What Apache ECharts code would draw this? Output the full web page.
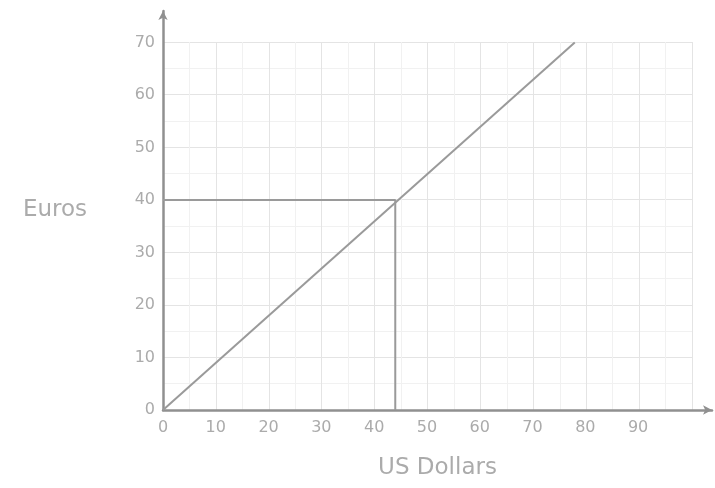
<!DOCTYPE html>
<html>
<head>
<meta charset="utf-8">
<script src="https://cdn.jsdelivr.net/npm/echarts@6/dist/echarts.min.js"></script>
<style>html,body{margin:0;padding:0;background:#fff}#c{width:715px;height:488px}</style>
</head>
<body>
<div id="c"></div>
<script>
// Data
var xTicks = [0, 10, 20, 30, 40, 50, 60, 70, 80, 90];
var yTicks = [0, 10, 20, 30, 40, 50, 60, 70];
var conversionLine = [[0, 0], [78, 70]];      // US Dollars -> Euros
var guideLine = [[0, 40], [44, 40], [44, 0]]; // 40 Euros reading
var xTitle = 'US Dollars';
var yTitle = 'Euros';

var chart = echarts.init(document.getElementById('c'));
var grey = '#ababab';
var font = 'DejaVu Sans';
var L = 163, B = 78;

chart.setOption({
  animation: false,
  backgroundColor: '#fff',
  grid: [
    {left: L, right: 715 - 692, top: 42, bottom: B},  // graph paper
    {left: L, right: 2, top: 11, bottom: B}           // axes + data
  ],
  xAxis: [
    {gridIndex: 0, type: 'value', min: 0, max: 100, interval: 10,
     axisLine: {show: false}, axisTick: {show: false}, axisLabel: {show: false},
     splitLine: {show: true, lineStyle: {color: '#e4e4e4', width: 1}},
     minorTick: {show: false, splitNumber: 2},
     minorSplitLine: {show: true, lineStyle: {color: '#f1f1f1', width: 1}}},
    {gridIndex: 1, type: 'value', min: 0, max: 104, interval: 10,
     axisLine: {show: true, symbol: ['none', 'arrow'], symbolSize: [7, 9], lineStyle: {color: '#909090', width: 2.5}},
     axisTick: {show: false},
     splitLine: {show: false},
     axisLabel: {color: grey, fontFamily: font, fontSize: 16, margin: 10,
       formatter: function (v) { return xTicks.indexOf(v) >= 0 ? String(v) : ''; }},
     name: xTitle, nameLocation: 'middle', nameGap: 47, nameMoveOverlap: false,
     nameTextStyle: {color: grey, fontFamily: font, fontSize: 23, padding: [0, 0, 0, 0]}}
  ],
  yAxis: [
    {gridIndex: 0, type: 'value', min: 0, max: 70, interval: 10,
     axisLine: {show: false}, axisTick: {show: false}, axisLabel: {show: false},
     splitLine: {show: true, lineStyle: {color: '#e4e4e4', width: 1}},
     minorTick: {show: false, splitNumber: 2},
     minorSplitLine: {show: true, lineStyle: {color: '#f1f1f1', width: 1}}},
    {gridIndex: 1, type: 'value', min: 0, max: 76, interval: 10,
     axisLine: {show: true, symbol: ['none', 'arrow'], symbolSize: [7, 9], lineStyle: {color: '#909090', width: 2.5}},
     axisTick: {show: false},
     splitLine: {show: false},
     axisLabel: {color: grey, fontFamily: font, fontSize: 16, margin: 8,
       formatter: function (v) { return yTicks.indexOf(v) >= 0 ? String(v) : ''; }},
     name: yTitle, nameLocation: 'middle', nameGap: 108, nameRotate: 0, nameMoveOverlap: false,
     nameTextStyle: {color: grey, fontFamily: font, fontSize: 23, align: 'center', verticalAlign: 'middle', padding: [0, 0, 0, 0]}}
  ],
  series: [
    {type: 'line', xAxisIndex: 1, yAxisIndex: 1, data: conversionLine, showSymbol: false,
     lineStyle: {color: '#9a9a9a', width: 2}, silent: true},
    {type: 'line', xAxisIndex: 1, yAxisIndex: 1, data: guideLine, showSymbol: false,
     lineStyle: {color: '#9a9a9a', width: 2}, silent: true}
  ]
});
</script>
</body>
</html>
